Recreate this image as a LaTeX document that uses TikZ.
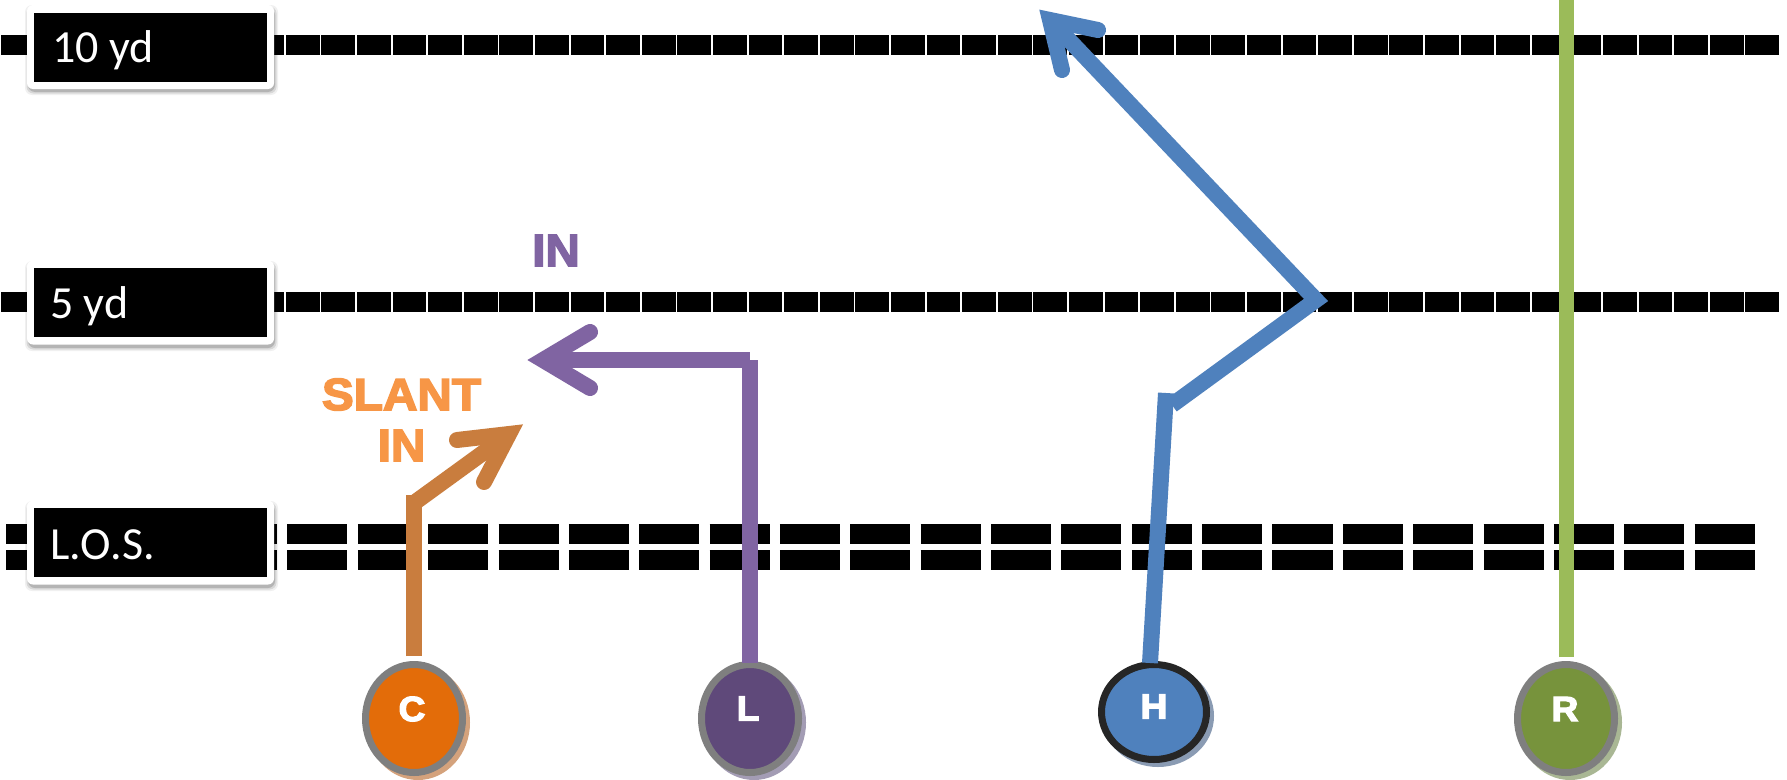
\documentclass[tikz,border=0pt]{standalone}
\usepackage{fontspec}
\setmainfont{Carlito}
\newfontfamily\heavy[FakeBold=3.5,FakeStretch=1.06]{Liberation Sans Bold}
\usetikzlibrary{shapes.geometric}
\definecolor{routeC}{HTML}{C97D3E}
\definecolor{routeL}{HTML}{8064A2}
\definecolor{routeH}{HTML}{4F81BD}
\definecolor{routeR}{HTML}{9BBB59}
\definecolor{fillC}{HTML}{E36C09}
\definecolor{fillL}{HTML}{5F497A}
\definecolor{fillH}{HTML}{4F81BD}
\definecolor{fillR}{HTML}{77933C}
\definecolor{shC}{HTML}{D4A27C}
\definecolor{shL}{HTML}{A39CB4}
\definecolor{shH}{HTML}{8A9BB3}
\definecolor{shR}{HTML}{A9B794}
\definecolor{rimgray}{HTML}{7F7F7F}
\definecolor{rimdark}{HTML}{262626}
\definecolor{calloutO}{HTML}{F79646}
\tikzset{
  ydline/.style={line width=20pt, dash pattern=on 33.8pt off 1.8pt},
  losline/.style={line width=20pt, dash pattern=on 60pt off 10.36pt},
  outerbox/.style={fill=white, rounded corners=6pt, minimum width=247pt, minimum height=84pt, inner sep=0pt},
  innerbox/.style={fill=black, minimum width=233pt, minimum height=69pt, inner sep=0pt},
  boxtext/.style={text=white, font=\fontsize{46}{50}\selectfont, inner sep=0pt, anchor=base west},
  player/.style={ellipse, line width=7pt, inner sep=0pt, minimum width=97pt, minimum height=108pt},
  playerletter/.style={text=white, font=\heavy\fontsize{35}{38}\selectfont, inner sep=0pt},
  route/.style={line width=16pt},
  arms/.style={line width=16pt, line cap=round, line join=miter},
  callout/.style={font=\heavy\fontsize{45}{48}\selectfont, inner sep=0pt},
}
\begin{document}
\begin{tikzpicture}[x=1pt,y=-1pt]
\useasboundingbox (0,0) rectangle (1787,779);
\fill[white] (0,0) rectangle (1787,779);

% yard lines
\draw[ydline] (1,45) -- (1780,45);
\draw[ydline] (1,301.5) -- (1780,301.5);
\draw[losline] (6,534) -- (1755,534);
\draw[losline] (6,560) -- (1755,560);

% label box shadows
\foreach \yy in {5,261,501}{
  \foreach \k/\o in {0/0.16,1.5/0.10,3/0.06}{
    \fill[black, opacity=\o, rounded corners=7pt] (28-\k,\yy+3-\k) rectangle (275+\k,\yy+87+\k);
  }
}

% label boxes
\node[outerbox] (w10) at (150.5,47) {};
\node[innerbox] (b10) at (w10.center) {};
\node[boxtext] (t10) at (52,62) {10 yd};
\node[outerbox] (w5) at (150.5,302.5) {};
\node[innerbox] (b5) at (w5.center) {};
\node[boxtext] (t5) at (50,318) {5 yd};
\node[outerbox] (wlos) at (150.5,542.5) {};
\node[innerbox] (blos) at (wlos.center) {};
\node[boxtext] (tlos) at (50,559) {L.O.S.};

% player shadows
\node[player, draw=shC, fill=shC] (Cs) at (418,722.5) {};
\node[player, draw=shL, fill=shL] (Ls) at (754,722.5) {};
\node[player, draw=shH, fill=shH, minimum width=105pt, minimum height=95pt] (Hs) at (1158,716) {};
\node[player, draw=shR, fill=shR] (Rs) at (1570,722.5) {};

% players
\node[player, draw=rimgray, fill=fillC] (C) at (414,718.5) {};
\node[player, draw=rimgray, fill=fillL] (L) at (750,718.5) {};
\node[player, draw=rimdark, fill=fillH, minimum width=105pt, minimum height=95pt] (H) at (1154,712) {};
\node[player, draw=rimgray, fill=fillR] (R) at (1566,718.5) {};

\node[playerletter] (Ct) at (412,709) {C};
\node[playerletter] (Lt) at (748,708.5) {L};
\node[playerletter] (Ht) at (1154,706.5) {H};
\node[playerletter] (Rt) at (1565,709) {R};

% C route (slant in)
\coordinate (Cbot) at ([yshift=5pt]C.north);
\coordinate (Ccorner) at (414,495);
\coordinate (Cstart) at (414,503);
\coordinate (Ctip) at (509,434);
\coordinate (Carm1) at (457,440);
\coordinate (Carm2) at (484,482);
\draw[route, routeC] (Cbot) -- (Ccorner);
\draw[route, routeC] (Cstart) -- (Ctip);
\draw[arms, routeC] (Carm1) -- (Ctip) -- (Carm2);

% L route (in)
\coordinate (Lbot) at ([yshift=-2pt]L.north);
\coordinate (Lcorner) at (750,360);
\coordinate (Ltip) at (543,360);
\coordinate (Larm1) at (590,332);
\coordinate (Larm2) at (590,388);
\draw[route, routeL] (Lbot) -- (Lcorner);
\draw[route, routeL] (Lcorner) -- (Ltip);
\draw[arms, routeL] (Larm1) -- (Ltip) -- (Larm2);

% H route
\coordinate (Hbot) at ([xshift=-4pt,yshift=-2pt]H.north);
\coordinate (Hknee) at (1166,393);
\coordinate (Hcut) at (1172,405);
\coordinate (Hturn) at (1316,300);
\coordinate (Htip) at (1050,20);
\coordinate (Harm1) at (1062,70);
\coordinate (Harm2) at (1098,30);
\draw[route, routeH] (Hbot) -- (Hknee);
\draw[route, routeH, line join=miter] (Hcut) -- (Hturn) -- (Htip);
\draw[arms, routeH] (Harm1) -- (Htip) -- (Harm2);

% R route
\coordinate (Rbot) at ([yshift=4pt]R.north);
\coordinate (Rtop) at (1566,-2);
\draw[route, routeR, line width=15pt] (Rbot) -- (Rtop);

% callouts
\node[callout, text=routeL] (inL) at (556,250.5) {IN};
\node[callout, text=calloutO] (slant) at (401.5,394.5) {SLANT};
\node[callout, text=calloutO] (inC) at (401.5,445.5) {IN};
\end{tikzpicture}
\end{document}
